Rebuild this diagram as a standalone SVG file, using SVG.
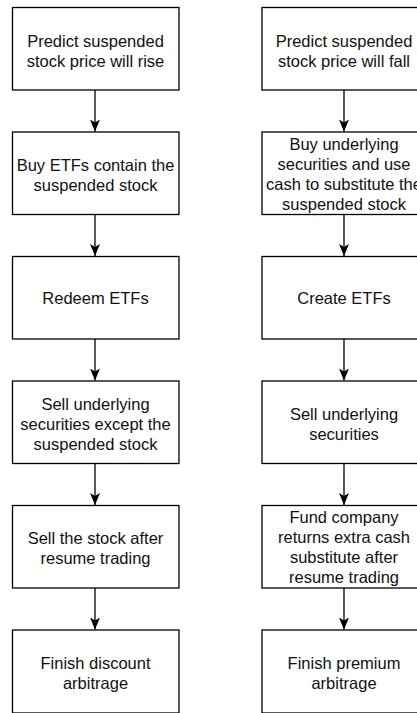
<svg xmlns="http://www.w3.org/2000/svg" width="417" height="713" viewBox="0 0 417 713">
  <style>
    .box { fill: #ffffff; stroke: #000000; stroke-width: 1.3; }
    .lbl { font-family: "Liberation Sans", Arial, sans-serif; font-size: 16.5px; fill: #111111; text-anchor: middle; }
    .edge { stroke: #000000; stroke-width: 1.3; fill: none; }
  </style>
  <defs>
    <marker id="arrow" viewBox="0 0 12 10" refX="12" refY="5" markerWidth="12" markerHeight="10" markerUnits="userSpaceOnUse" orient="auto">
      <path d="M0,0 L12,5 L0,10 L3,5 Z" fill="#000000"/>
    </marker>
  </defs>
  <rect width="417" height="713" fill="#ffffff"/>

  <!-- Discount arbitrage chain (left) -->
  <g id="rise-predict">
    <rect class="box" x="12.5" y="7.5" width="166.5" height="82.5"/>
    <text class="lbl" x="95.5" y="46.5"><tspan x="95.5">Predict suspended</tspan><tspan x="95.5" dy="20">stock price will rise</tspan></text>
  </g>
  <g id="rise-buy-etf">
    <rect class="box" x="12.5" y="132" width="166.5" height="82.5"/>
    <text class="lbl" x="95.5" y="170.5"><tspan x="95.5">Buy ETFs contain the</tspan><tspan x="95.5" dy="20">suspended stock</tspan></text>
  </g>
  <g id="rise-redeem">
    <rect class="box" x="12.5" y="256.5" width="166.5" height="82.5"/>
    <text class="lbl" x="95.5" y="304">Redeem ETFs</text>
  </g>
  <g id="rise-sell-underlying">
    <rect class="box" x="12.5" y="381" width="166.5" height="82.5"/>
    <text class="lbl" x="95.5" y="409.5"><tspan x="95.5">Sell underlying</tspan><tspan x="95.5" dy="20">securities except the</tspan><tspan x="95.5" dy="20">suspended stock</tspan></text>
  </g>
  <g id="rise-sell-stock">
    <rect class="box" x="12.5" y="505.5" width="166.5" height="82.5"/>
    <text class="lbl" x="95.5" y="544"><tspan x="95.5">Sell the stock after</tspan><tspan x="95.5" dy="20">resume trading</tspan></text>
  </g>
  <g id="rise-finish">
    <rect class="box" x="12.5" y="630" width="166.5" height="83"/>
    <text class="lbl" x="95.5" y="668.5"><tspan x="95.5">Finish discount</tspan><tspan x="95.5" dy="20">arbitrage</tspan></text>
  </g>

  <!-- Premium arbitrage chain (right) -->
  <g id="fall-predict">
    <rect class="box" x="262" y="7.5" width="166" height="82.5"/>
    <text class="lbl" x="344" y="46.5"><tspan x="344">Predict suspended</tspan><tspan x="344" dy="20">stock price will fall</tspan></text>
  </g>
  <g id="fall-buy-underlying">
    <rect class="box" x="262" y="132" width="166" height="82.5"/>
    <text class="lbl" x="344" y="149.5"><tspan x="344">Buy underlying</tspan><tspan x="344" dy="20">securities and use</tspan><tspan x="344" dy="20">cash to substitute the</tspan><tspan x="344" dy="20">suspended stock</tspan></text>
  </g>
  <g id="fall-create">
    <rect class="box" x="262" y="256.5" width="166" height="82.5"/>
    <text class="lbl" x="344" y="304">Create ETFs</text>
  </g>
  <g id="fall-sell-underlying">
    <rect class="box" x="262" y="381" width="166" height="82.5"/>
    <text class="lbl" x="344" y="419.5"><tspan x="344">Sell underlying</tspan><tspan x="344" dy="20">securities</tspan></text>
  </g>
  <g id="fall-fund-return">
    <rect class="box" x="262" y="505.5" width="166" height="82.5"/>
    <text class="lbl" x="344" y="523"><tspan x="344">Fund company</tspan><tspan x="344" dy="20">returns extra cash</tspan><tspan x="344" dy="20">substitute after</tspan><tspan x="344" dy="20">resume trading</tspan></text>
  </g>
  <g id="fall-finish">
    <rect class="box" x="262" y="630" width="166" height="83"/>
    <text class="lbl" x="344" y="668.5"><tspan x="344">Finish premium</tspan><tspan x="344" dy="20">arbitrage</tspan></text>
  </g>

  <!-- Connectors -->
  <g id="connectors">
    <path class="edge" d="M95,90 V131.5" marker-end="url(#arrow)"/>
    <path class="edge" d="M95,214.5 V256" marker-end="url(#arrow)"/>
    <path class="edge" d="M95,339 V380.5" marker-end="url(#arrow)"/>
    <path class="edge" d="M95,463.5 V505" marker-end="url(#arrow)"/>
    <path class="edge" d="M95,588 V629.5" marker-end="url(#arrow)"/>
    <path class="edge" d="M344,90 V131.5" marker-end="url(#arrow)"/>
    <path class="edge" d="M344,214.5 V256" marker-end="url(#arrow)"/>
    <path class="edge" d="M344,339 V380.5" marker-end="url(#arrow)"/>
    <path class="edge" d="M344,463.5 V505" marker-end="url(#arrow)"/>
    <path class="edge" d="M344,588 V629.5" marker-end="url(#arrow)"/>
  </g>
</svg>
